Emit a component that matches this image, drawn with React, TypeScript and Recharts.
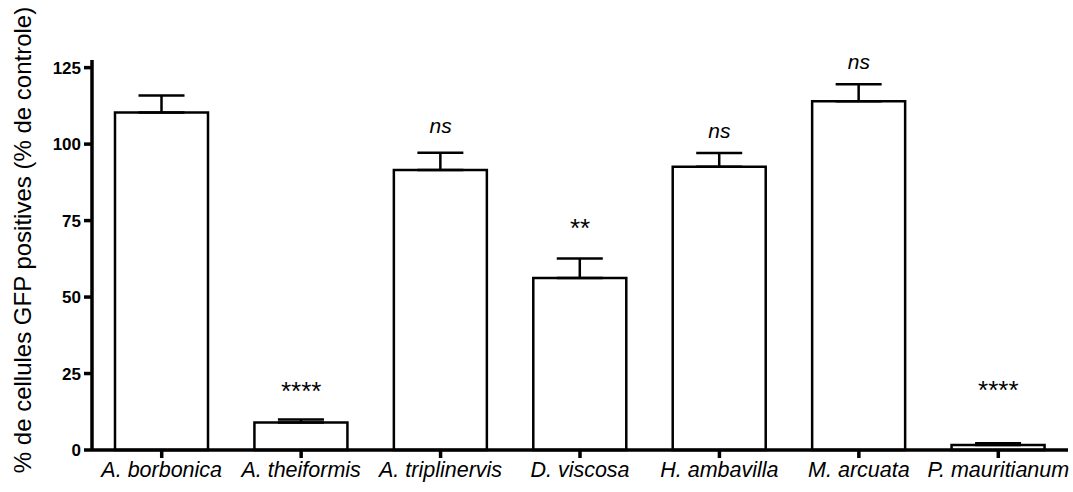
import { Bar, ComposedChart, ErrorBar, Scatter, XAxis, YAxis } from "recharts";

const categories = [
  "A. borbonica",
  "A. theiformis",
  "A. triplinervis",
  "D. viscosa",
  "H. ambavilla",
  "M. arcuata",
  "P. mauritianum",
];
const means = [110.3, 9.0, 91.5, 56.2, 92.6, 114.0, 1.6];
const sems = [5.6, 1.0, 5.7, 6.4, 4.5, 5.6, 0.6];
const sigLabels = ["", "****", "ns", "**", "ns", "ns", "****"];
const sigLevels = [null, 20.6, 106.2, 73.8, 104.6, 127, 21];
const yTicks = [0, 25, 50, 75, 100, 125];

const FONT = "'Liberation Sans', Arial, Helvetica, sans-serif";

const data = categories.map((name, i) => ({
  name,
  mean: means[i],
  err: [0, sems[i]],
  sig: sigLabels[i],
  sigY: sigLevels[i],
}));

function SigMark(props: any) {
  const { cx, cy, payload } = props;
  if (!payload?.sig || cx == null || cy == null) return <g />;
  const isNs = payload.sig === "ns";
  return (
    <text
      x={cx}
      y={isNs ? cy : cy + 4}
      textAnchor="middle"
      dominantBaseline="central"
      fontFamily={FONT}
      fontSize={isNs ? 21 : 26}
      fontStyle={isNs ? "italic" : "normal"}
      fill="#000"
    >
      {payload.sig}
    </text>
  );
}

function YLabel() {
  return (
    <text
      x={31}
      y={240}
      transform="rotate(-90, 31, 240)"
      textAnchor="middle"
      fontFamily={FONT}
      fontSize={24}
      fill="#000"
    >
      % de cellules GFP positives (% de controle)
    </text>
  );
}

export default function App() {
  return (
    <div style={{ position: "absolute", left: 0, top: 0, background: "#fff" }}>
      <ComposedChart
        width={1073}
        height={492}
        data={data}
        margin={{ top: 60, right: 5, bottom: 12, left: 30 }}
      >
        <XAxis
          dataKey="name"
          height={30}
          tickSize={8}
          tickMargin={4}
          stroke="#000"
          axisLine={{ stroke: "#000", strokeWidth: 3.5 }}
          tickLine={{ stroke: "#000", strokeWidth: 3.5 }}
          tick={{ fill: "#000", stroke: "none", fontFamily: FONT, fontSize: 21.5, fontStyle: "italic" }}
          interval={0}
        />
        <YAxis
          width={62}
          domain={[0, 127.5]}
          ticks={yTicks}
          tickSize={8}
          tickMargin={3}
          stroke="#000"
          axisLine={{ stroke: "#000", strokeWidth: 3.5 }}
          tickLine={{ stroke: "#000", strokeWidth: 3.5 }}
          tick={{ fill: "#000", stroke: "none", fontFamily: FONT, fontSize: 17, fontWeight: "bold" }}
          label={<YLabel />}
        />
        <Bar
          dataKey="mean"
          fill="#fff"
          stroke="#000"
          strokeWidth={2.5}
          barSize={93}
          isAnimationActive={false}
        >
          <ErrorBar
            dataKey="err"
            width={23}
            stroke="#000"
            strokeWidth={2.5}
            direction="y"
          />
        </Bar>
        <Scatter
          dataKey="sigY"
          isAnimationActive={false}
          shape={SigMark}
          legendType="none"
        />
      </ComposedChart>
    </div>
  );
}
